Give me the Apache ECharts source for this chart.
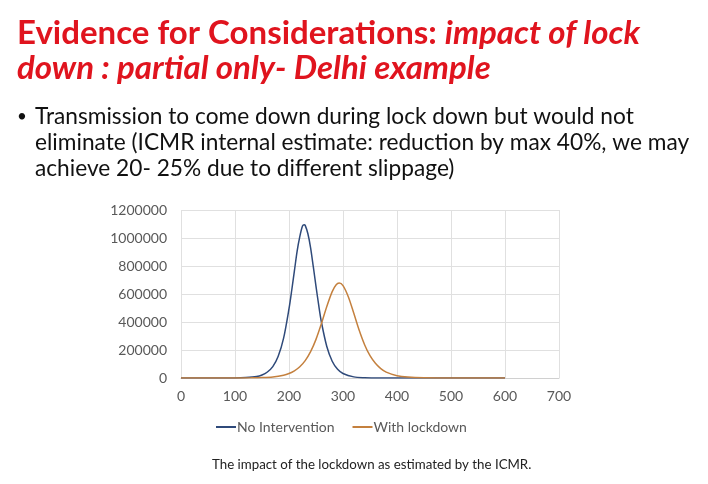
<!DOCTYPE html>
<html>
<head>
<meta charset="utf-8">
<script src="https://cdn.jsdelivr.net/npm/echarts@6/dist/echarts.min.js"></script>
<style>
html,body{margin:0;padding:0;background:#fff;}
#c{width:708px;height:484px;}
</style>
</head>
<body>
<div id="c"></div>
<script>
// Series: [day, cases]
var seriesNames = ['No Intervention', 'With lockdown'];
var noIntervention = [
  [0,0],[50,0],[100,500],[120,3000],[140,10000],[150,21000],[160,43000],[170,81000],
  [180,155000],[190,285000],[200,495000],[205,625000],[210,765000],[215,905000],
  [220,1010000],[225,1085000],[228,1095000],[230,1090000],[235,1030000],[240,930000],
  [245,795000],[250,655000],[255,520000],[260,400000],[270,225000],[280,120000],
  [290,62000],[300,32000],[320,8000],[340,2000],[360,500],[400,0],[500,0],[600,0]
];
var withLockdown = [
  [0,0],[50,50],[100,400],[130,1200],[150,3100],[170,7900],[190,20000],[200,32000],
  [210,51000],[220,80000],[230,124000],[240,188000],[250,276000],[260,388000],
  [270,511000],[280,617000],[287,665000],[293,678000],[300,660000],[310,579000],
  [320,462000],[330,341000],[340,238000],[350,159000],[360,105000],[370,67000],
  [380,42000],[400,16800],[420,6600],[450,1600],[500,300],[550,0],[600,0]
];
var xTicks = {min:0, max:700, interval:100};
var yTicks = {min:0, max:1200000, interval:200000};
var titleLine1a = 'Evidence for Considerations: ';
var titleLine1b = 'impact of lock';
var titleLine2 = 'down : partial only- Delhi example';
var bulletLines = [
  'Transmission to come down during lock down but would not',
  'eliminate (ICMR internal estimate: reduction by max 40%, we may',
  'achieve 20- 25% due to different slippage)'
];
var caption = 'The impact of the lockdown as estimated by the ICMR.';

var chart = echarts.init(document.getElementById('c'), null, {renderer:'canvas'});
var red = '#E0141E';
var fam = 'Lato, "Open Sans", sans-serif';
var graphics = [];
bulletLines.forEach(function(t,i){
  graphics.push({type:'text', left:35, top:105 + i*26, style:{text:t, fill:'#111', font:'22.7px ' + fam}});
});
graphics.push({type:'text', left:17, top:108, style:{text:'•', fill:'#111', font:'17px ' + fam}});
graphics.push({type:'text', left:212, top:458, style:{text:caption, fill:'#222', font:'13.3px ' + fam}});

chart.setOption({
  backgroundColor:'#fff',
  animation:false,
  title:{
    left:12, top:11,
    text:'{a|' + titleLine1a + '}{b|' + titleLine1b + '}\n{b|' + titleLine2 + '}',
    textStyle:{
      rich:{
        a:{fontFamily:fam, fontWeight:'bold', fontSize:33, color:red, lineHeight:35},
        b:{fontFamily:fam, fontWeight:'bold', fontStyle:'italic', fontSize:33, color:red, lineHeight:35}
      }
    }
  },
  graphic:graphics,
  legend:{
    top:415, left:211, itemGap:18, itemWidth:20, itemHeight:2, icon:'rect',
    textStyle:{fontFamily:fam, fontSize:14, color:'#595959', padding:[0,0,0,-4]},
    data:seriesNames
  },
  grid:{left:181, right:149, top:210, bottom:106},
  xAxis:{
    type:'value', min:xTicks.min, max:xTicks.max, interval:xTicks.interval,
    axisLine:{show:true, lineStyle:{color:'#d0d0d0'}},
    axisTick:{show:false},
    axisLabel:{color:'#595959', fontSize:14, fontFamily:fam, margin:11},
    splitLine:{show:true, lineStyle:{color:'#e0e0e0'}}
  },
  yAxis:{
    type:'value', min:yTicks.min, max:yTicks.max, interval:yTicks.interval,
    axisLine:{show:false}, axisTick:{show:false},
    axisLabel:{color:'#595959', fontSize:14, fontFamily:fam, margin:14,
      formatter:function(v){return String(v);}},
    splitLine:{show:true, lineStyle:{color:'#e0e0e0'}}
  },
  series:[
    {name:seriesNames[0], type:'line', data:noIntervention, showSymbol:false, smooth:0.3,
     lineStyle:{color:'#2F4A7A', width:1.5}, itemStyle:{color:'#2F4A7A'}},
    {name:seriesNames[1], type:'line', data:withLockdown, showSymbol:false, smooth:0.3,
     lineStyle:{color:'#C4803E', width:1.5}, itemStyle:{color:'#C4803E'}}
  ]
});
</script>
</body>
</html>
